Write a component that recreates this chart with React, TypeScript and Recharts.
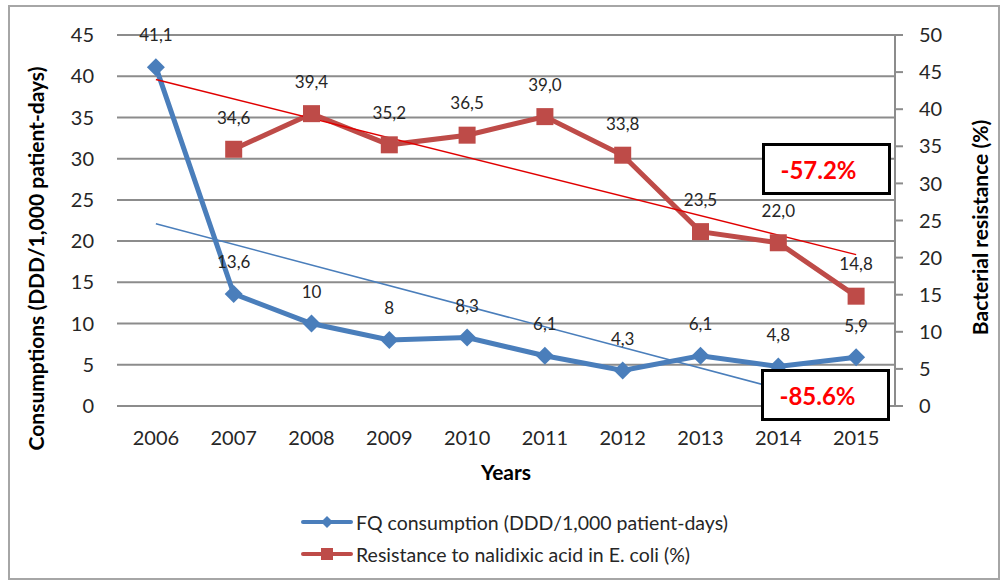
import { ComposedChart, Line, XAxis, YAxis, CartesianGrid, LabelList, Label } from "recharts"

const years = ["2006", "2007", "2008", "2009", "2010", "2011", "2012", "2013", "2014", "2015"]
const fqConsumption = [41.1, 13.6, 10, 8, 8.3, 6.1, 4.3, 6.1, 4.8, 5.9]
const nalidixicResistance = [null, 34.6, 39.4, 35.2, 36.5, 39.0, 33.8, 23.5, 22.0, 14.8]
// linear trend lines, end points
const fqTrend = [22.1, null, null, null, null, null, null, null, 2.1, null]
const resistanceTrend = [44.0, null, null, null, null, null, null, null, null, 20.4]
const leftTicks = [0, 5, 10, 15, 20, 25, 30, 35, 40, 45]
const rightTicks = [0, 5, 10, 15, 20, 25, 30, 35, 40, 45, 50]

const BLUE = "#4a7ebb"
const RED = "#be4b48"
const FONT = "Lato, 'Open Sans', sans-serif"
const TEXT = "#262626"
const GRID = "#8c8c8c"

const data = years.map((year, i) => ({
  year,
  fq: fqConsumption[i],
  res: nalidixicResistance[i],
  fqTrend: fqTrend[i],
  resTrend: resistanceTrend[i],
}))

const fmtFq = (v: number) => String(v).replace(".", ",")
const fmtRes = (v: number) => v.toFixed(1).replace(".", ",")

// eslint-disable-next-line @typescript-eslint/no-explicit-any
function Diamond({ cx, cy }: any) {
  if (cx == null || cy == null) return null
  const r = 9
  return <path d={`M${cx},${cy - r}L${cx + r},${cy}L${cx},${cy + r}L${cx - r},${cy}Z`} fill={BLUE} />
}

// eslint-disable-next-line @typescript-eslint/no-explicit-any
function Square({ cx, cy }: any) {
  if (cx == null || cy == null) return null
  const s = 17
  return <rect x={cx - s / 2} y={cy - s / 2} width={s} height={s} fill={RED} />
}

function makeLabel(fmt: (v: number) => string) {
  // eslint-disable-next-line @typescript-eslint/no-explicit-any
  return function PointLabel({ x, y, value }: any) {
    if (value == null) return null
    return (
      <text x={x} y={y - 30} textAnchor="middle" dominantBaseline="middle"
        fontSize={17} fill={TEXT} fontFamily={FONT}>
        {fmt(value)}
      </text>
    )
  }
}

function Badge({ left, top, text }: { left: number; top: number; text: string }) {
  return (
    <div style={{
      position: "absolute", left, top, width: 129, height: 52,
      border: "3px solid #000", background: "#fff",
      display: "flex", alignItems: "center", justifyContent: "center",
      paddingRight: 16, boxSizing: "border-box",
      color: "#ff0000", fontWeight: 700, fontSize: 24, fontFamily: FONT,
    }}>
      {text}
    </div>
  )
}

function LegendRow({ top, marker, text }: { top: number; marker: "diamond" | "square"; text: string }) {
  const color = marker === "diamond" ? BLUE : RED
  return (
    <div style={{ position: "absolute", left: 291, top, display: "flex", alignItems: "center", height: 24 }}>
      <svg width={52} height={20}>
        <line x1={2} y1={10} x2={50} y2={10} stroke={color} strokeWidth={4} strokeLinecap="round" />
        {marker === "diamond"
          ? <path d="M26,4L32,10L26,16L20,10Z" fill={color} />
          : <rect x={20} y={4} width={12} height={12} fill={color} />}
      </svg>
      <span style={{ marginLeft: 3, fontSize: 19.5, color: TEXT, fontFamily: FONT }}>{text}</span>
    </div>
  )
}

export default function App() {
  return (
    <div style={{
      position: "absolute", left: 8, top: 5, width: 992, height: 575,
      border: "2px solid #a6a6a6", boxSizing: "border-box", background: "#fff",
    }}>
      <ComposedChart width={988} height={571} data={data}
        margin={{ top: 28, right: 41, left: 27, bottom: 142 }}>
        <CartesianGrid yAxisId="left" vertical={false} stroke={GRID} strokeWidth={2} />
        <XAxis dataKey="year" scale="band" axisLine={false} tickLine={false} tickSize={6} tickMargin={19}
          tick={{ fontSize: 20, fill: TEXT, fontFamily: FONT }} height={30}>
          <Label content={({ viewBox }: any) => (
            <text x={viewBox.x + viewBox.width / 2} y={viewBox.y + 69} textAnchor="middle"
              dominantBaseline="middle" fontSize={21} fontWeight={700} fill="#000" fontFamily={FONT}>
              Years
            </text>
          )} />
        </XAxis>
        <YAxis yAxisId="left" domain={[0, 45]} ticks={leftTicks} interval={0}
          axisLine={false} tickLine={false} tickSize={6} tickMargin={17} width={80}
          tick={{ fontSize: 20, fill: TEXT, fontFamily: FONT }}>
          <Label content={({ viewBox }: any) => {
            const x = viewBox.x + 2
            const y = viewBox.y + viewBox.height / 2 + 38
            return (
              <text x={x} y={y} transform={`rotate(-90 ${x} ${y})`} textAnchor="middle"
                dominantBaseline="middle" fontSize={21} fontWeight={700} fill="#000" fontFamily={FONT}>
                Consumptions (DDD/1,000 patient-days)
              </text>
            )
          }} />
        </YAxis>
        <YAxis yAxisId="right" orientation="right" domain={[0, 50]} ticks={rightTicks} interval={0}
          axisLine={{ stroke: GRID, strokeWidth: 2 }} tickLine={{ stroke: GRID, strokeWidth: 2 }}
          tickSize={8} tickMargin={16} width={62}
          tick={{ fontSize: 20, fill: TEXT, fontFamily: FONT }}>
          <Label content={({ viewBox }: any) => {
            const x = viewBox.x + 88
            const y = viewBox.y + viewBox.height / 2 + 7
            return (
              <text x={x} y={y} transform={`rotate(-90 ${x} ${y})`} textAnchor="middle"
                dominantBaseline="middle" fontSize={21} fontWeight={700} fill="#000" fontFamily={FONT}>
                Bacterial resistance (%)
              </text>
            )
          }} />
        </YAxis>

        <Line yAxisId="left" dataKey="fq" stroke={BLUE} strokeWidth={5} dot={<Diamond />}
          activeDot={false} isAnimationActive={false}>
          <LabelList dataKey="fq" content={makeLabel(fmtFq)} />
        </Line>
        <Line yAxisId="right" dataKey="res" stroke={RED} strokeWidth={5} dot={<Square />}
          activeDot={false} isAnimationActive={false}>
          <LabelList dataKey="res" content={makeLabel(fmtRes)} />
        </Line>
        <Line yAxisId="left" dataKey="fqTrend" stroke={BLUE} strokeWidth={1.5} dot={false}
          connectNulls activeDot={false} isAnimationActive={false} />
        <Line yAxisId="right" dataKey="resTrend" stroke="#e00000" strokeWidth={1.5} dot={false}
          connectNulls activeDot={false} isAnimationActive={false} />
      </ComposedChart>

      <Badge left={752} top={136} text="-57.2%" />
      <Badge left={751} top={362} text="-85.6%" />

      <LegendRow top={503} marker="diamond" text="FQ consumption (DDD/1,000 patient-days)" />
      <LegendRow top={535} marker="square" text="Resistance to nalidixic acid in E. coli (%)" />
    </div>
  )
}
